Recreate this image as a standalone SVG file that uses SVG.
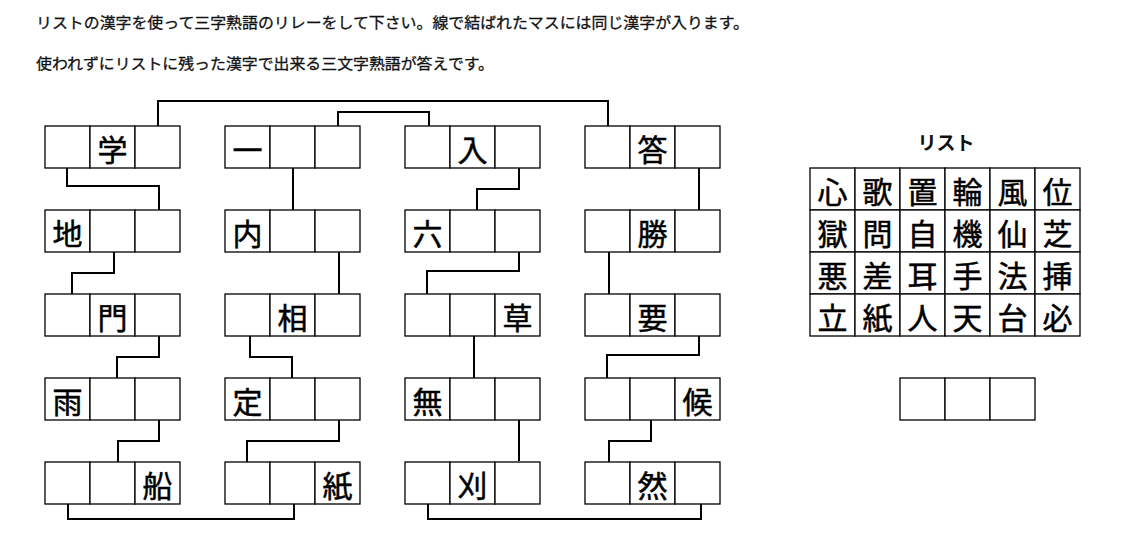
<svg xmlns="http://www.w3.org/2000/svg" width="1126" height="547" viewBox="0 0 1126 547">
<style>
.bg{fill:#fff}
.c{fill:#fff;stroke:#000;stroke-width:1.3}
.k{font-family:"Noto Sans CJK JP","Noto Sans",sans-serif;font-size:30px;fill:#000;stroke:#000;stroke-width:0.5;text-anchor:middle}
.h{font-family:"Noto Sans CJK JP","Noto Sans",sans-serif;font-size:15px;fill:#111;stroke:#111;stroke-width:0.3}
.t{font-family:"Noto Sans CJK JP","Noto Sans",sans-serif;font-size:19px;font-weight:bold;fill:#111;text-anchor:middle}
.ln{fill:none;stroke:#000;stroke-width:2}
</style>
<defs>
<g id="cells">
<rect class="c" x="0" y="0" width="45" height="42"/>
<rect class="c" x="45" y="0" width="45" height="42"/>
<rect class="c" x="90" y="0" width="45" height="42"/>
</g>
</defs>
<rect class="bg" x="0" y="0" width="1126" height="547"/>
<g id="header">
<text class="h" x="36" y="28" textLength="713" lengthAdjust="spacingAndGlyphs">リストの漢字を使って三字熟語のリレーをして下さい。線で結ばれたマスには同じ漢字が入ります。</text>
<text class="h" x="36" y="69" textLength="458" lengthAdjust="spacingAndGlyphs">使われずにリストに残った漢字で出来る三文字熟語が答えです。</text>
</g>
<g id="connectors">
<path class="ln" d="M158,126 V101 H608 V126"/>
<path class="ln" d="M338,126 V112 H429 V126"/>
<path class="ln" d="M67,168 V186 H159 V210"/>
<path class="ln" d="M293,168 V210"/>
<path class="ln" d="M519,168 V189 H477 V210"/>
<path class="ln" d="M699,168 V210"/>
<path class="ln" d="M114,252 V273 H72 V294"/>
<path class="ln" d="M339,252 V294"/>
<path class="ln" d="M519,252 V271 H427 V294"/>
<path class="ln" d="M609,252 V294"/>
<path class="ln" d="M159,336 V357 H117 V378"/>
<path class="ln" d="M250,336 V357 H292 V378"/>
<path class="ln" d="M474,336 V378"/>
<path class="ln" d="M699,336 V355 H607 V378"/>
<path class="ln" d="M159,420 V441 H118 V462"/>
<path class="ln" d="M339,420 V441 H247 V462"/>
<path class="ln" d="M519,420 V461"/>
<path class="ln" d="M651,420 V441 H609 V462"/>
<path class="ln" d="M68,504 V519 H294 V504"/>
<path class="ln" d="M428,504 V519 H701 V504"/>
</g>
<g id="n-gaku" transform="translate(45,126)"><use href="#cells"/><text class="k" x="67.5" y="34.5">学</text></g>
<g id="n-ichi" transform="translate(225,126)"><use href="#cells"/><text class="k" x="22.5" y="34.5">一</text></g>
<g id="n-iri" transform="translate(405,126)"><use href="#cells"/><text class="k" x="67.5" y="34.5">入</text></g>
<g id="n-kotae" transform="translate(585,126)"><use href="#cells"/><text class="k" x="67.5" y="34.5">答</text></g>
<g id="n-chi" transform="translate(45,210)"><use href="#cells"/><text class="k" x="22.5" y="34.5">地</text></g>
<g id="n-uchi" transform="translate(225,210)"><use href="#cells"/><text class="k" x="22.5" y="34.5">内</text></g>
<g id="n-roku" transform="translate(405,210)"><use href="#cells"/><text class="k" x="22.5" y="34.5">六</text></g>
<g id="n-sho" transform="translate(585,210)"><use href="#cells"/><text class="k" x="67.5" y="34.5">勝</text></g>
<g id="n-mon" transform="translate(45,294)"><use href="#cells"/><text class="k" x="67.5" y="34.5">門</text></g>
<g id="n-so" transform="translate(225,294)"><use href="#cells"/><text class="k" x="67.5" y="34.5">相</text></g>
<g id="n-kusa" transform="translate(405,294)"><use href="#cells"/><text class="k" x="112.5" y="34.5">草</text></g>
<g id="n-yo" transform="translate(585,294)"><use href="#cells"/><text class="k" x="67.5" y="34.5">要</text></g>
<g id="n-ame" transform="translate(45,378)"><use href="#cells"/><text class="k" x="22.5" y="34.5">雨</text></g>
<g id="n-tei" transform="translate(225,378)"><use href="#cells"/><text class="k" x="22.5" y="34.5">定</text></g>
<g id="n-mu" transform="translate(405,378)"><use href="#cells"/><text class="k" x="22.5" y="34.5">無</text></g>
<g id="n-ko" transform="translate(585,378)"><use href="#cells"/><text class="k" x="112.5" y="34.5">候</text></g>
<g id="n-fune" transform="translate(45,462)"><use href="#cells"/><text class="k" x="112.5" y="34.5">船</text></g>
<g id="n-kami" transform="translate(225,462)"><use href="#cells"/><text class="k" x="112.5" y="34.5">紙</text></g>
<g id="n-kari" transform="translate(405,462)"><use href="#cells"/><text class="k" x="67.5" y="34.5">刈</text></g>
<g id="n-zen" transform="translate(585,462)"><use href="#cells"/><text class="k" x="67.5" y="34.5">然</text></g>
<g id="list">
<text class="t" x="946" y="150">リスト</text>
<g transform="translate(810,168)">
<use href="#cells"/><use href="#cells" x="135"/>
<use href="#cells" y="42"/><use href="#cells" x="135" y="42"/>
<use href="#cells" y="84"/><use href="#cells" x="135" y="84"/>
<use href="#cells" y="126"/><use href="#cells" x="135" y="126"/>
<text class="k" x="22.5" y="34.5">心</text><text class="k" x="67.5" y="34.5">歌</text><text class="k" x="112.5" y="34.5">置</text><text class="k" x="157.5" y="34.5">輪</text><text class="k" x="202.5" y="34.5">風</text><text class="k" x="247.5" y="34.5">位</text>
<text class="k" x="22.5" y="76.5">獄</text><text class="k" x="67.5" y="76.5">問</text><text class="k" x="112.5" y="76.5">自</text><text class="k" x="157.5" y="76.5">機</text><text class="k" x="202.5" y="76.5">仙</text><text class="k" x="247.5" y="76.5">芝</text>
<text class="k" x="22.5" y="118.5">悪</text><text class="k" x="67.5" y="118.5">差</text><text class="k" x="112.5" y="118.5">耳</text><text class="k" x="157.5" y="118.5">手</text><text class="k" x="202.5" y="118.5">法</text><text class="k" x="247.5" y="118.5">挿</text>
<text class="k" x="22.5" y="160.5">立</text><text class="k" x="67.5" y="160.5">紙</text><text class="k" x="112.5" y="160.5">人</text><text class="k" x="157.5" y="160.5">天</text><text class="k" x="202.5" y="160.5">台</text><text class="k" x="247.5" y="160.5">必</text>
</g>
</g>
<g id="answer" transform="translate(900,378)"><use href="#cells"/></g>
</svg>
